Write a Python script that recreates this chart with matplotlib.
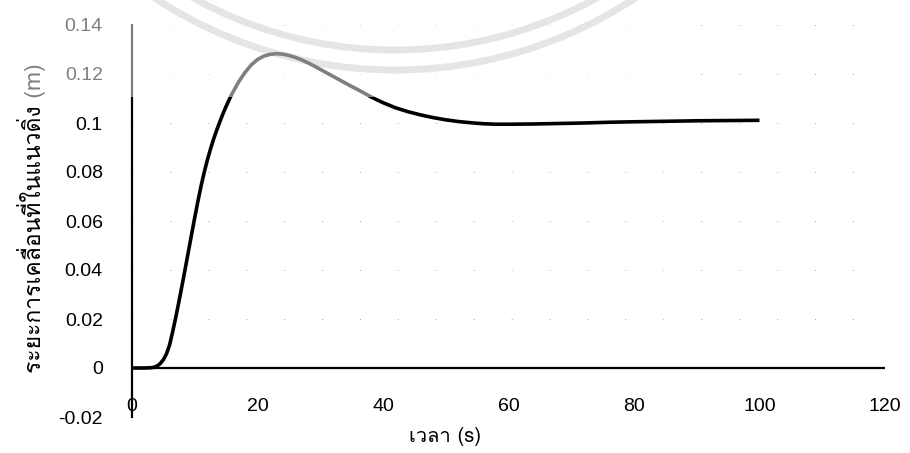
import numpy as np
import matplotlib
matplotlib.use('Agg')
import matplotlib.pyplot as plt
from matplotlib import font_manager
from matplotlib.ft2font import FT2Font
from matplotlib.patches import Rectangle, Circle

# pick any installed family that actually has Thai glyphs
thai_fonts = []
for f in font_manager.fontManager.ttflist:
    try:
        if 0x0E27 in FT2Font(f.fname).get_charmap() and f.name not in thai_fonts:
            thai_fonts.append(f.name)
    except Exception:
        pass
label_family = thai_fonts[:1] + ['DejaVu Sans']

# vertical displacement response
time_s = [0, 1, 2, 3, 3.5, 4, 4.5, 5, 5.5, 6, 6.5, 7, 7.5, 8, 8.5, 9, 9.5, 10,
          10.5, 11, 11.5, 12, 12.5, 13, 13.5, 14, 14.5, 15, 15.5, 16, 17, 18, 19,
          20, 21, 22, 23, 24, 25, 26, 27, 28, 29, 30, 31, 32, 33, 34, 35, 36, 37,
          38, 39, 40, 42, 44, 46, 48, 50, 52, 54, 56, 58, 60, 64, 68, 72, 76, 80,
          85, 90, 95, 100]
disp_m = [0, 0, 0, 0.0001, 0.0003, 0.0008, 0.0018, 0.0034, 0.0058, 0.0095,
          0.0150, 0.0210, 0.0274, 0.0340, 0.0408, 0.0477, 0.0546, 0.0614,
          0.0680, 0.0742, 0.0798, 0.0848, 0.0893, 0.0934, 0.0971, 0.1005,
          0.1038, 0.1068, 0.1096, 0.1122, 0.1168, 0.1206, 0.1237,
          0.1259, 0.1273, 0.1280, 0.1283, 0.1281, 0.1276, 0.1268, 0.1258,
          0.1246, 0.1233, 0.1219, 0.1205, 0.1191, 0.1177, 0.1163, 0.1149,
          0.1136, 0.1122, 0.1108, 0.1095, 0.1083, 0.1062, 0.1046, 0.1033,
          0.1022, 0.1013, 0.1006, 0.1001, 0.0997, 0.0995, 0.0995, 0.0996,
          0.0998, 0.1000, 0.1003, 0.1005, 0.1007, 0.1009, 0.1010, 0.1011]

x_ticks = [0, 20, 40, 60, 80, 100, 120]
y_ticks = [-0.02, 0, 0.02, 0.04, 0.06, 0.08, 0.1, 0.12, 0.14]
y_ticklabels = ['-0.02', '0', '0.02', '0.04', '0.06', '0.08', '0.1', '0.12', '0.14']

plt.rcParams['font.family'] = ['Liberation Sans', 'DejaVu Sans']

fig = plt.figure(figsize=(9.1, 4.53), dpi=100)
ax = fig.add_axes([132/910, 36/453, 753/910, 392/453])
ax.set_facecolor('none')

ax.plot(time_s, disp_m, color='black', lw=2.6, solid_capstyle='butt',
        solid_joinstyle='round', zorder=3)
ax.axhline(0, color='black', lw=1.6, zorder=2)

ax.set_xlim(0, 120)
ax.set_ylim(-0.02, 0.14)
ax.set_xticks(x_ticks)
ax.set_yticks(y_ticks)
ax.set_yticklabels(y_ticklabels)
ax.tick_params(axis='both', length=0, labelsize=14)
ax.tick_params(axis='y', pad=21)
ax.tick_params(axis='x', pad=-14)
for s in ['top', 'right', 'bottom']:
    ax.spines[s].set_visible(False)
ax.spines['left'].set_linewidth(1.6)
ax.grid(axis='y', color='#aaaaaa', lw=0.7, linestyle=(0, (1, 38)))

fig.text(445/910, 1 - 437/453, 'เวลา (s)', family=label_family, fontsize=14.5,
         ha='center', va='center')
fig.text(32/910, 1 - 218/453, 'ระยะการเคลื่อนที่ในแนวดิ่ง (m)', family=label_family,
         fontsize=16.5, rotation=90, ha='center', va='center')

# faded seal printed over the top of the page
for r in [4.17, 4.37]:
    fig.patches.append(Circle((3.95, 8.20), r, transform=fig.dpi_scale_trans,
                              fill=False, ec='#cccccc', lw=5, zorder=-1))
fig.patches.append(Rectangle((0, 4.53 - 0.97), 7.0, 0.97, transform=fig.dpi_scale_trans,
                             fc='white', ec='none', alpha=0.5, zorder=10))

fig.savefig('out.png', dpi=100)
